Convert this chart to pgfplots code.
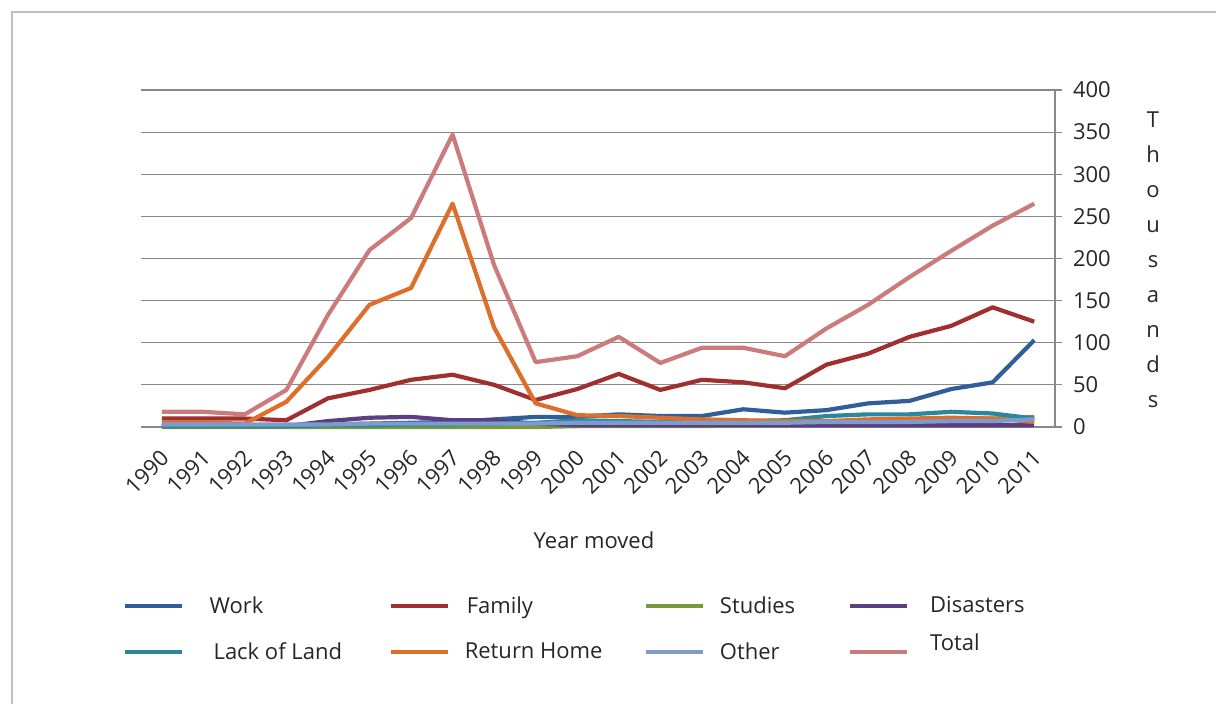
\documentclass[border=0pt]{standalone}
\usepackage{pgfplots}
\pgfplotsset{compat=1.18}
\usepackage{fontspec}
\setmainfont{Open Sans}
\definecolor{cWork}{RGB}{47,94,155}
\definecolor{cFamily}{RGB}{160,48,47}
\definecolor{cStudies}{RGB}{119,154,58}
\definecolor{cDisasters}{RGB}{92,63,131}
\definecolor{cLand}{RGB}{42,135,157}
\definecolor{cReturn}{RGB}{221,111,42}
\definecolor{cOther}{RGB}{126,156,203}
\definecolor{cTotal}{RGB}{203,123,123}
\definecolor{gridgray}{RGB}{137,137,137}
\newcommand{\lbl}[2]{\makebox[#1][l]{#2}}
\begin{document}
\begin{tikzpicture}
\path[use as bounding box] (0pt,0pt) rectangle (608pt,352pt);
\draw[black!25, line width=0.6pt] (6pt,0pt) -- (6pt,346pt) -- (608pt,346pt);
\begin{axis}[
  at={(70.5pt,138.5pt)}, anchor=south west,
  scale only axis, width=457pt, height=168.5pt,
  xmin=-0.5, xmax=21.5, ymin=0, ymax=400,
  axis x line*=bottom, axis y line*=right,
  axis line style={-, gridgray, line width=0.6pt},
  ytick={0,50,...,400},
  ymajorgrids=true, grid style={gridgray, line width=0.6pt},
  ytick align=center, major tick length=7pt,
  y tick style={gridgray, line width=0.6pt},
  xtick={0,...,21},
  xticklabels={1990,1991,1992,1993,1994,1995,1996,1997,1998,1999,2000,2001,2002,2003,2004,2005,2006,2007,2008,2009,2010,2011},
  x tick style={draw=none},
  minor xtick={-0.5,0.5,...,21.5},
  minor x tick style={gridgray, line width=0.6pt},
  minor tick length=7pt,
  xtick align=outside,
  /pgf/number format/assume math mode=true,
  tick label style={font=\fontsize{11}{13}\selectfont, text=black!85},
  x tick label style={rotate=45, anchor=north east, yshift=2pt},
  yticklabel style={anchor=west, xshift=2pt},
  legend columns=4,
  legend cell align=left,
  legend style={at={(-0.0197,-0.49)}, anchor=north west, draw=none,
    inner sep=0pt, font=\fontsize{11}{13}\selectfont, text=black!85,
    /tikz/every even column/.append style={column sep=0pt},
    row sep=9pt},
  legend image code/.code={\draw[#1, line width=2.1pt] (0pt,0pt) -- (28.5pt,0pt);},
  every axis plot/.append style={line width=2.1pt, mark=none, line join=round},
  clip=false,
]
\addplot[cWork] coordinates {(0,2)(1,2)(2,2)(3,2)(4,3)(5,4)(6,5)(7,6)(8,9)(9,12)(10,12)(11,15)(12,13)(13,13)(14,21)(15,17)(16,20)(17,28)(18,31)(19,45)(20,53)(21,103)};
\addlegendentry{\hspace{10.5pt}\lbl{87.5pt}{Work}}
\addplot[cFamily] coordinates {(0,10)(1,10)(2,10)(3,8)(4,34)(5,44)(6,56)(7,62)(8,50)(9,32)(10,45)(11,63)(12,44)(13,56)(14,53)(15,46)(16,74)(17,87)(18,107)(19,120)(20,142)(21,125)};
\addlegendentry{\hspace{6.5pt}\lbl{86.5pt}{Family}}
\addplot[cStudies] coordinates {(0,0)(1,0)(2,0)(3,0)(4,0)(5,0)(6,0)(7,0)(8,0)(9,0)(10,1)(11,1)(12,1)(13,1)(14,2)(15,2)(16,3)(17,5)(18,7)(19,10)(20,10)(21,12)};
\addlegendentry{\hspace{5.5pt}\lbl{62pt}{Studies}}
\addplot[cDisasters] coordinates {(0,1)(1,1)(2,1)(3,1)(4,7)(5,11)(6,12)(7,8)(8,8)(9,4)(10,2)(11,2)(12,2)(13,2)(14,2)(15,2)(16,2)(17,2)(18,2)(19,2)(20,2)(21,2)};
\addlegendentry{\hspace{8.5pt}Disasters}
\addplot[cLand] coordinates {(0,1)(1,1)(2,1)(3,1)(4,2)(5,2)(6,3)(7,3)(8,4)(9,5)(10,8)(11,7)(12,6)(13,7)(14,7)(15,8)(16,13)(17,15)(18,15)(19,18)(20,16)(21,10)};
\addlegendentry{\hspace{12.5pt}\lbl{85.5pt}{Lack of Land}}
\addplot[cReturn] coordinates {(0,5)(1,5)(2,4)(3,30)(4,83)(5,145)(6,165)(7,265)(8,118)(9,28)(10,14)(11,13)(12,11)(13,9)(14,8)(15,7)(16,7)(17,9)(18,10)(19,11)(20,10)(21,6)};
\addlegendentry{\hspace{5.5pt}\lbl{87.5pt}{Return Home}}
\addplot[cOther] coordinates {(0,3)(1,3)(2,3)(3,3)(4,3)(5,4)(6,4)(7,4)(8,4)(9,4)(10,5)(11,5)(12,5)(13,5)(14,5)(15,5)(16,6)(17,6)(18,6)(19,7)(20,7)(21,9)};
\addlegendentry{\hspace{5.5pt}\lbl{62pt}{Other}}
\addplot[cTotal] coordinates {(0,18)(1,18)(2,15)(3,44)(4,133)(5,210)(6,248)(7,347)(8,192)(9,77)(10,84)(11,107)(12,76)(13,94)(14,94)(15,84)(16,117)(17,145)(18,178)(19,209)(20,239)(21,265)};
\addlegendentry{\hspace{8.5pt}\raisebox{0pt}[0pt][0pt]{Total}}
\end{axis}
\node[font=\fontsize{11}{13}\selectfont, text=black!85] at (297pt,82pt) {Year moved};
\node[align=center, font=\fontsize{11}{17.5}\selectfont, text=black!85] at (576.5pt,222pt) {T\\h\\o\\u\\s\\a\\n\\d\\s};
\end{tikzpicture}
\end{document}
